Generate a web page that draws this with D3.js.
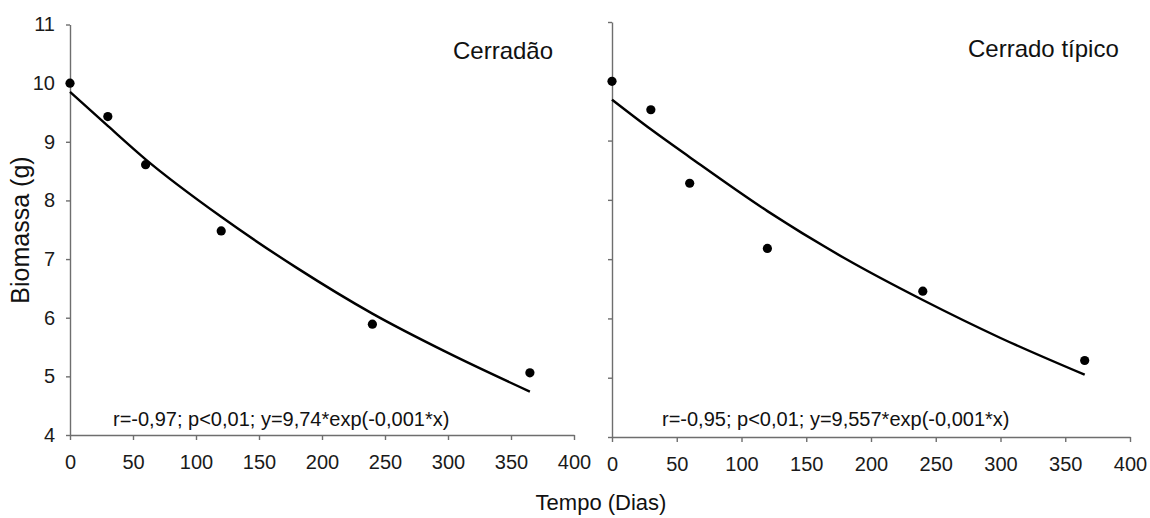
<!DOCTYPE html>
<html>
<head>
<meta charset="utf-8">
<script src="https://cdn.jsdelivr.net/npm/d3@7"></script>
<style>
  body { margin: 0; background: #fff; }
  svg { font-family: "Liberation Sans", Arial, sans-serif; }
  .axis path, .axis line { stroke: #6e6e6e; stroke-width: 1.4; }
  .axis text { fill: #1a1a1a; font-size: 20px; }
</style>
</head>
<body>
<svg id="chart" width="1150" height="518"></svg>
<script>
// observed days
const dias = [0, 30, 60, 120, 240, 365];
// measured biomass (g)
const cerradao = [10.0, 9.43, 8.61, 7.48, 5.89, 5.06];
const cerradoTipico = [10.0, 9.52, 8.28, 7.18, 6.46, 5.29];
// fitted curves
const curvaDias = [0, 30, 60, 120, 180, 240, 300, 365];
const curvaCerradao = [9.85, 9.27, 8.70, 7.72, 6.85, 6.07, 5.40, 4.74];
const curvaTipico = [9.69, 9.19, 8.72, 7.81, 7.01, 6.31, 5.67, 5.05];
// axis ticks
const xTicks = [0, 50, 100, 150, 200, 250, 300, 350, 400];
const yTicks = [4, 5, 6, 7, 8, 9, 10, 11];
const titulos = ["Cerradão", "Cerrado típico"];
const equacoes = [
  "r=-0,97; p<0,01; y=9,74*exp(-0,001*x)",
  "r=-0,95; p<0,01; y=9,557*exp(-0,001*x)"
];

const svg = d3.select("#chart");

function painel(cfg) {
  const x = d3.scaleLinear().domain([0, 400]).range([cfg.x0, cfg.x1]);
  const y = d3.scaleLinear().domain([4, 11]).range([cfg.y0, cfg.y1]);
  const g = svg.append("g");

  g.append("g")
    .attr("class", "axis")
    .attr("transform", "translate(0," + cfg.y0 + ")")
    .call(d3.axisBottom(x).tickValues(xTicks).tickSize(5).tickPadding(15).tickSizeOuter(0));

  const yAxis = d3.axisLeft(y).tickValues(yTicks).tickSize(4).tickPadding(11).tickSizeOuter(0)
    .tickFormat(cfg.yLabels ? d3.format("d") : "");
  g.append("g")
    .attr("class", "axis")
    .attr("transform", "translate(" + cfg.x0 + ",0)")
    .call(yAxis);

  const pts = curvaDias.map((d, i) => [d, cfg.curva[i]]);
  g.append("path")
    .datum(pts)
    .attr("fill", "none")
    .attr("stroke", "#000")
    .attr("stroke-width", 2.4)
    .attr("d", d3.line().x(d => x(d[0])).y(d => y(d[1])).curve(d3.curveMonotoneX));

  g.selectAll("circle")
    .data(dias.map((d, i) => [d, cfg.valores[i]]))
    .enter()
    .append("circle")
    .attr("cx", d => x(d[0]))
    .attr("cy", d => y(d[1]))
    .attr("r", 4.6)
    .attr("fill", "#000");

  g.append("text")
    .attr("x", cfg.tx).attr("y", cfg.ty)
    .attr("font-size", 24).attr("fill", "#111")
    .text(cfg.titulo);

  g.append("text")
    .attr("x", cfg.ex).attr("y", 426)
    .attr("font-size", 20).attr("fill", "#111")
    .text(cfg.eq);
}

painel({ x0: 70, x1: 574, y0: 435, y1: 24.5, yLabels: true,
  valores: cerradao, curva: curvaCerradao, titulo: titulos[0], eq: equacoes[0],
  tx: 453, ty: 59, ex: 113 });
painel({ x0: 612, x1: 1130, y0: 437, y1: 22, yLabels: false,
  valores: cerradoTipico, curva: curvaTipico, titulo: titulos[1], eq: equacoes[1],
  tx: 968, ty: 57, ex: 662 });

svg.append("text")
  .attr("transform", "translate(29,230) rotate(-90)")
  .attr("text-anchor", "middle")
  .attr("font-size", 25).attr("fill", "#111")
  .text("Biomassa (g)");

svg.append("text")
  .attr("x", 601).attr("y", 510)
  .attr("text-anchor", "middle")
  .attr("font-size", 22).attr("fill", "#111")
  .text("Tempo (Dias)");
</script>
</body>
</html>
